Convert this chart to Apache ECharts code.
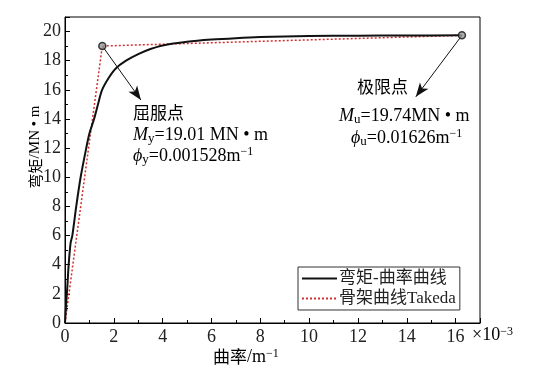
<!DOCTYPE html>
<html lang="zh-cn">

<head>
    <meta charset="UTF-8">
    <title>弯矩-曲率曲线</title>
    <script src="https://cdn.jsdelivr.net/npm/echarts@6/dist/echarts.min.js"></script>
    <style>
        body {
            margin: 0;
        }

        #root {
            width: 560px;
            height: 376px;
        }
    </style>
</head>

<body>

    <div id="root"></div>
    <script>

        // 弯矩-曲率曲线 (曲率 ×10^-3 m^-1, 弯矩 MN·m)
        var curvature = [0, 0.05, 0.1, 0.15, 0.23, 0.3, 0.46, 0.64, 0.87, 1.0, 1.19, 1.35, 1.52, 1.8, 2.08, 2.5, 3.0, 3.5, 4.0, 5.0, 6.0, 7.0, 8.0, 10.0, 12.0, 14.0, 16.26];
        var moment = [0, 1.4, 2.6, 4.0, 5.5, 6.0, 8.0, 10.0, 12.0, 13.0, 14.0, 15.0, 16.0, 16.85, 17.47, 18.0, 18.45, 18.8, 19.05, 19.3, 19.45, 19.55, 19.62, 19.69, 19.72, 19.73, 19.74];

        // 骨架曲线 Takeda
        var takedaX = [0, 1.528, 16.26];
        var takedaY = [0, 19.01, 19.74];

        // 屈服点、极限点
        var keyX = [1.528, 16.26];
        var keyY = [19.01, 19.74];

        // 箭头终点
        var arrowEnds = [[3.11, 15.3], [14.37, 15.52]];

        var xTicks = [0, 2, 4, 6, 8, 10, 12, 14, 16];
        var yTicks = [0, 2, 4, 6, 8, 10, 12, 14, 16, 18, 20];

        function zip(a, b) {
            return a.map(function (v, i) { return [v, b[i]]; });
        }

        var serif = '"Liberation Serif", "Noto Sans CJK SC", serif';
        var rich = {
            n: { fontFamily: serif, fontSize: 18, color: '#222' },
            i: { fontFamily: serif, fontSize: 18, fontStyle: 'italic', color: '#222' },
            sub: { fontFamily: serif, fontSize: 13, color: '#222', verticalAlign: 'bottom', padding: [7, 0, 0, 0] },
            sup: { fontFamily: serif, fontSize: 12, color: '#222', verticalAlign: 'top', padding: [0, 0, 7, 0] },
            cjk: { fontFamily: '"Noto Sans CJK SC"', fontSize: 17, color: '#222' },
            ln: { fontFamily: serif, fontSize: 15, color: '#222' },
            lsup: { fontFamily: serif, fontSize: 11, color: '#222', verticalAlign: 'top', padding: [0, 0, 6, 0] },
            lcjk: { fontFamily: '"Noto Sans CJK SC"', fontSize: 15, color: '#222' }
        };

        function label(x, y, text, rot) {
            return {
                type: 'text', x: x, y: y, rotation: rot || 0,
                style: { text: text, rich: rich, verticalAlign: 'middle', align: rot ? 'center' : 'left' }
            };
        }

        var mychart = echarts.init(document.getElementById("root"));

        mychart.setOption({
            animation: false,
            textStyle: { fontFamily: serif },
            grid: {
                left: 65, top: 17, right: 80, bottom: 53,
                show: true, borderColor: '#000', borderWidth: 1
            },
            xAxis: {
                type: 'value', min: 0, max: 17, interval: 2,
                axisLine: { lineStyle: { color: '#000', width: 1 } },
                axisTick: { inside: true, length: 5, lineStyle: { color: '#000' } },
                minorTick: { show: true, splitNumber: 2, length: 3, lineStyle: { color: '#000' } },
                splitLine: { show: false },
                axisLabel: {
                    color: '#222', fontSize: 18, fontFamily: serif, margin: 5,
                    showMaxLabel: false,
                    formatter: function (v) { return xTicks.indexOf(v) >= 0 ? String(v) : ''; }
                }
            },
            yAxis: {
                type: 'value', min: 0, max: 21, interval: 2,
                axisLine: { show: true, lineStyle: { color: '#000', width: 1 } },
                axisTick: { show: true, inside: true, length: 5, lineStyle: { color: '#000' } },
                minorTick: { show: true, splitNumber: 2, length: 3, lineStyle: { color: '#000' } },
                splitLine: { show: false },
                axisLabel: {
                    color: '#222', fontSize: 18, fontFamily: serif, margin: 4,
                    showMaxLabel: false,
                    formatter: function (v) { return yTicks.indexOf(v) >= 0 ? String(v) : ''; }
                }
            },
            legend: {
                orient: 'vertical',
                left: 298, top: 267,
                width: 172,
                padding: [3, 4, 3, 3],
                itemGap: 3,
                itemWidth: 35,
                itemHeight: 12,
                borderColor: '#333',
                borderWidth: 1,
                itemStyle: { opacity: 0 },
                textStyle: { fontFamily: '"Liberation Serif", "Noto Sans CJK SC"', fontSize: 17, color: '#222', padding: [0, 0, 0, -3] },
                data: ['弯矩-曲率曲线', '骨架曲线Takeda']
            },
            series: [{
                name: '弯矩-曲率曲线',
                type: 'line',
                symbol: 'none',
                smooth: 0.3,
                lineStyle: { color: '#111', width: 2 },
                itemStyle: { color: '#111' },
                data: zip(curvature, moment),
                z: 3
            }, {
                name: '骨架曲线Takeda',
                type: 'line',
                symbol: 'none',
                lineStyle: { color: '#d0302f', width: 1.5, type: [2, 2] },
                itemStyle: { color: '#d0302f' },
                data: zip(takedaX, takedaY),
                z: 2,
                markLine: {
                    silent: true,
                    symbol: ['none', 'arrow'],
                    symbolSize: [8, 14],
                    label: { show: false },
                    lineStyle: { color: '#111', width: 1, type: 'solid' },
                    data: [
                        [{ coord: [keyX[0], keyY[0]] }, { coord: arrowEnds[0] }],
                        [{ coord: [keyX[1], keyY[1]] }, { coord: arrowEnds[1] }]
                    ]
                }
            }, {
                type: 'scatter',
                symbol: 'circle',
                symbolSize: 7,
                itemStyle: { color: '#999', borderColor: '#111', borderWidth: 1.5 },
                data: zip(keyX, keyY),
                z: 5
            }],
            graphic: [
                label(133, 113, '{cjk|屈服点}'),
                label(133, 135, '{i|M}{sub|y}{n|=19.01 MN • m}'),
                label(133, 156, '{i|ϕ}{sub|y}{n|=0.001528m}{sup|−1}'),
                label(357, 87, '{cjk|极限点}'),
                label(339, 116, '{i|M}{sub|u}{n|=19.74MN • m}'),
                label(351, 138, '{i|ϕ}{sub|u}{n|=0.01626m}{sup|−1}'),
                label(472, 335, '{n|×10}{sup|−3}'),
                label(213, 357, '{cjk|曲率}{n|/m}{sup|−1}'),
                label(35, 147, '{lcjk|弯矩}{ln|/MN • m}', -Math.PI / 2 * -1)
            ]
        });

    </script>

</body>

</html>
